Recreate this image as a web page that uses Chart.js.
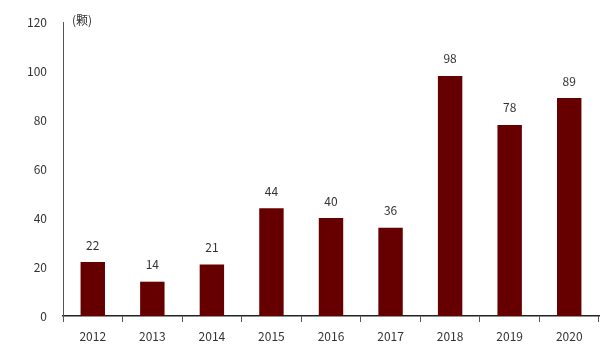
<!DOCTYPE html>
<html>
<head>
<meta charset="utf-8">
<script src="https://cdn.jsdelivr.net/npm/chart.js@4/dist/chart.umd.min.js"></script>
<style>
  html, body { margin: 0; padding: 0; background: #fff; }
  #wrap { width: 613px; height: 353px; }
</style>
</head>
<body>
<div id="wrap"><canvas id="c"></canvas></div>
<script>
// data
var years = ['2012', '2013', '2014', '2015', '2016', '2017', '2018', '2019', '2020'];
var counts = [22, 14, 21, 44, 40, 36, 98, 78, 89];
var unitLabel = '(颗)';

var barColor = '#660000';
var textColor = '#333333';
var fontFamily = '"Noto Sans CJK SC", "DejaVu Sans", sans-serif';

// draws the value above each bar and the unit label next to the axis top
var labelPlugin = {
  id: 'labels',
  afterDatasetsDraw: function (chart) {
    var ctx = chart.ctx;
    var meta = chart.getDatasetMeta(0);
    ctx.save();
    ctx.fillStyle = textColor;
    ctx.font = '12px ' + fontFamily;
    ctx.textAlign = 'center';
    ctx.textBaseline = 'bottom';
    meta.data.forEach(function (bar, i) {
      ctx.fillText(String(counts[i]), bar.x, bar.y - 11);
    });
    ctx.textAlign = 'left';
    ctx.textBaseline = 'middle';
    ctx.fillText(unitLabel, chart.chartArea.left + 9, chart.chartArea.top - 2);
    ctx.restore();
  }
};

var chart = new Chart(document.getElementById('c'), {
  type: 'bar',
  data: {
    labels: years,
    datasets: [{
      data: counts,
      backgroundColor: barColor,
      borderWidth: 0,
      categoryPercentage: 1,
      barPercentage: 0.41
    }]
  },
  plugins: [labelPlugin],
  options: {
    responsive: true,
    maintainAspectRatio: false,
    animation: false,
    layout: { padding: { top: 22, right: 14, left: 0, bottom: 0 } },
    plugins: {
      legend: { display: false },
      tooltip: { enabled: false }
    },
    scales: {
      x: {
        grid: { display: true, offset: true, drawOnChartArea: false, tickLength: 6, color: '#555' },
        border: { color: '#222', width: 1.5 },
        ticks: { color: textColor, font: { size: 12, family: fontFamily }, padding: 7 },
        afterFit: function (scale) { scale.height = 37; }
      },
      y: {
        min: 0,
        max: 120,
        ticks: { stepSize: 20, color: textColor, font: { size: 12, family: fontFamily }, padding: 8 },
        grid: { display: false },
        border: { color: '#555', width: 1 },
        afterFit: function (scale) { scale.width = 63; }
      }
    }
  }
});
</script>
</body>
</html>
